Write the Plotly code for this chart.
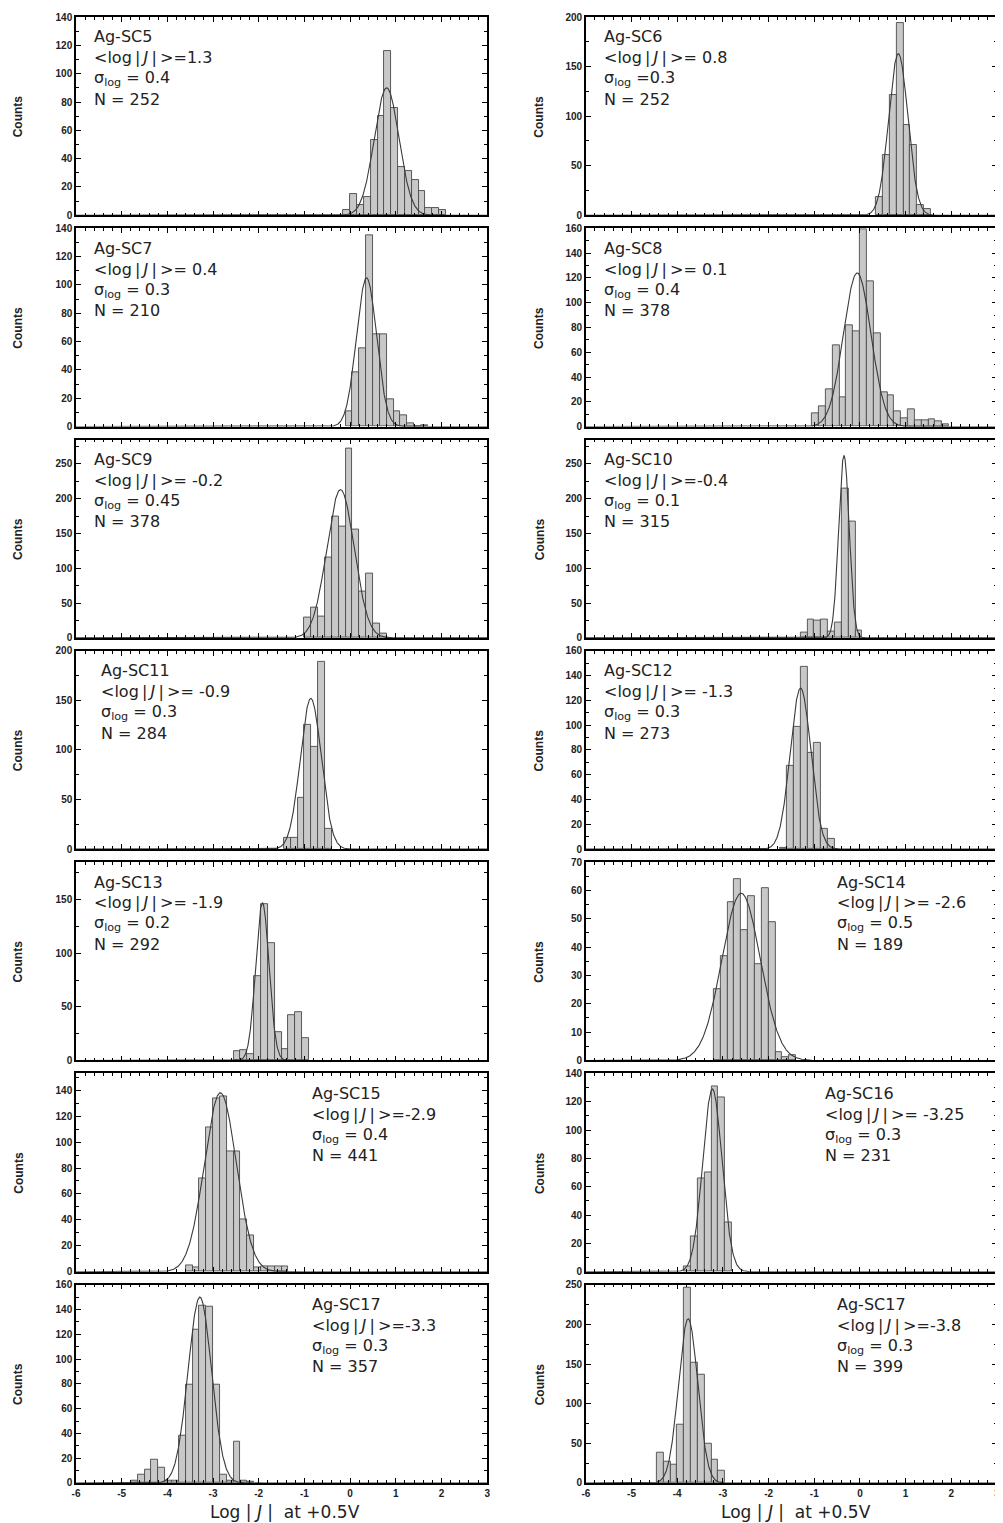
import numpy as np
import plotly.graph_objects as go
from plotly.subplots import make_subplots

# ---------------- data ----------------
BIN_WIDTH = 0.15

panel_names = ["Ag-SC5", "Ag-SC6", "Ag-SC7", "Ag-SC8", "Ag-SC9", "Ag-SC10", "Ag-SC11",
               "Ag-SC12", "Ag-SC13", "Ag-SC14", "Ag-SC15", "Ag-SC16", "Ag-SC17", "Ag-SC17"]
mean_labels = ["=1.3", "= 0.8", "= 0.4", "= 0.1", "= -0.2", "=-0.4", "= -0.9",
               "= -1.3", "= -1.9", "= -2.6", "=-2.9", "= -3.25", "=-3.3", "=-3.8"]
sigma_labels = [" = 0.4", " =0.3", " = 0.3", " = 0.4", " = 0.45", " = 0.1", " = 0.3",
                " = 0.3", " = 0.2", " = 0.5", " = 0.4", " = 0.3", " = 0.3", " = 0.3"]
n_labels = ["252", "252", "210", "378", "378", "315", "284",
            "273", "292", "189", "441", "231", "357", "399"]

bin_starts = [-0.15, 0.35, -0.10, -1.05, -1.00, -1.30, -1.45,
              -1.75, -2.55, -3.20, -3.60, -3.85, -4.80, -4.45]

counts_sc5 = [4, 15, 7, 13, 53, 70, 116, 76, 34, 31, 25, 17, 5, 5, 4]
counts_sc6 = [18, 61, 121, 194, 91, 71, 10, 6]
counts_sc7 = [11, 38, 55, 135, 65, 65, 19, 11, 8, 2, 0, 1]
counts_sc8 = [11, 16, 30, 66, 24, 82, 77, 159, 117, 75, 28, 25, 12, 7, 14, 5, 5, 6, 4, 2]
counts_sc9 = [29, 44, 31, 115, 174, 160, 272, 156, 66, 93, 21, 6]
counts_sc10 = [8, 26, 25, 27, 9, 22, 215, 167, 11]
counts_sc11 = [11, 11, 52, 125, 103, 189, 20]
counts_sc12 = [1, 67, 99, 147, 78, 86, 16, 8]
counts_sc13 = [9, 10, 6, 79, 146, 109, 26, 11, 42, 45, 21]
counts_sc14 = [25, 37, 56, 64, 46, 58, 34, 61, 49, 3, 1, 2]
counts_sc15 = [5, 3, 72, 111, 134, 135, 93, 93, 40, 28, 3, 4, 4, 4, 4]
counts_sc16 = [4, 25, 66, 70, 131, 123, 35]
counts_sc17 = [2, 7, 11, 19, 12, 2, 2, 38, 79, 124, 143, 142, 79, 7, 2, 33, 2, 1]
counts_sc17b = [38, 27, 23, 73, 246, 152, 137, 49, 29, 16]

all_counts = [counts_sc5, counts_sc6, counts_sc7, counts_sc8, counts_sc9, counts_sc10,
              counts_sc11, counts_sc12, counts_sc13, counts_sc14, counts_sc15,
              counts_sc16, counts_sc17, counts_sc17b]

# Gaussian fit parameters (amplitude, centre, width)
fit_amp = [90, 163, 105, 124, 213, 262, 152, 130, 147, 59, 138, 129, 150, 207]
fit_mu = [0.80, 0.84, 0.36, -0.06, -0.21, -0.35, -0.86, -1.30, -1.92, -2.60, -2.84, -3.23, -3.29, -3.76]
fit_sigma = [0.27, 0.21, 0.22, 0.30, 0.30, 0.115, 0.23, 0.225, 0.146, 0.42, 0.35, 0.21, 0.256, 0.21]

y_max = [140, 200, 140, 160, 285, 285, 200, 160, 185, 70, 153, 140, 160, 250]
y_dtick = [20, 50, 20, 20, 50, 50, 50, 20, 50, 10, 20, 20, 20, 50]

x_tick_vals = [-6, -5, -4, -3, -2, -1, 0, 1, 2, 3]
x_tick_text = ["-6", "-5", "-4", "-3", "-2", "-1", "0", "1", "2", "3"]

# ---------------- layout (style only) ----------------
label_xpos = [0.04, 0.04, 0.04, 0.04, 0.04, 0.04, 0.055,
              0.04, 0.04, 0.607, 0.57, 0.578, 0.57, 0.607]
line_offsets_px = [20, 41, 62, 82.5]   # text line centres below plot top

PAGE_OFF = 8                      # browser body margin
W, H = 1003 - PAGE_OFF, 1523 - PAGE_OFF
ML, MR, MT, MB = 76 - PAGE_OFF, 3, 12 - PAGE_OFF, 40
plot_w = W - ML - MR
plot_h = H - MT - MB
SUB_H = 199
GAP_V = 13

fig = make_subplots(rows=7, cols=2,
                    horizontal_spacing=99 / plot_w,
                    vertical_spacing=GAP_V / plot_h)

TEXT_FONT = "DejaVu Sans"
AX_FONT = "Liberation Sans"

xs = np.linspace(-6, 3, 1801)
annotations = []
for i in range(14):
    r, c = i // 2 + 1, i % 2 + 1
    cnt = all_counts[i]
    centers = [bin_starts[i] + BIN_WIDTH * (k + 0.5) for k in range(len(cnt))]
    fig.add_trace(go.Bar(x=centers, y=cnt, width=BIN_WIDTH,
                         marker=dict(color="#c8c8c8", line=dict(color="#4a4a4a", width=0.9)),
                         showlegend=False, hoverinfo="skip"), row=r, col=c)
    ys = fit_amp[i] * np.exp(-0.5 * ((xs - fit_mu[i]) / fit_sigma[i]) ** 2)
    fig.add_trace(go.Scatter(x=xs, y=ys, mode="lines",
                             line=dict(color="#3a3a3a", width=1.1),
                             showlegend=False, hoverinfo="skip"), row=r, col=c)

    last_row = (r == 7)
    fig.update_xaxes(range=[-6, 3], showline=True, mirror="ticks", linecolor="black",
                     linewidth=1.5, ticks="inside", ticklen=5, tickcolor="black",
                     tickvals=x_tick_vals, ticktext=x_tick_text,
                     minor=dict(ticks="inside", dtick=0.2, ticklen=3, tickcolor="black"),
                     showgrid=False, zeroline=False, showticklabels=last_row,
                     tickfont=dict(family=AX_FONT, size=10, color="#222", weight="bold"),
                     row=r, col=c)
    dt = y_dtick[i]
    fig.update_yaxes(range=[0, y_max[i]], showline=True, mirror="ticks", linecolor="black",
                     linewidth=1.5, ticks="inside", ticklen=5, tickcolor="black",
                     dtick=dt, tick0=0,
                     minor=dict(ticks="inside", dtick=dt / 2, ticklen=3, tickcolor="black"),
                     showgrid=False, zeroline=False,
                     tickfont=dict(family=AX_FONT, size=10, color="#222", weight="bold"),
                     row=r, col=c)

    k = i + 1
    xr = "x domain" if k == 1 else f"x{k} domain"
    yr = "y domain" if k == 1 else f"y{k} domain"
    lines = [panel_names[i],
             "&lt;log\u2009|\u2009<i>J</i>\u2009|\u2009&gt;" + mean_labels[i],
             "σ<sub>log</sub>" + sigma_labels[i],
             "N = " + n_labels[i]]
    for txt, off in zip(lines, line_offsets_px):
        annotations.append(dict(text=txt, xref=xr, yref=yr, x=label_xpos[i],
                                y=1 - off / SUB_H,
                                xanchor="left", yanchor="middle", align="left",
                                showarrow=False,
                                font=dict(family=TEXT_FONT, size=16, color="#222")))

    # "Counts" axis label
    row_center_px = MT + (r - 1) * (SUB_H + GAP_V) + SUB_H / 2
    py = (H - MB - row_center_px) / plot_h
    px_page = 18 if c == 1 else 541
    px = (px_page - PAGE_OFF - ML) / plot_w
    annotations.append(dict(text="<b>Counts</b>", xref="paper", yref="paper", x=px, y=py,
                            xanchor="center", yanchor="middle", textangle=-90,
                            showarrow=False,
                            font=dict(family=AX_FONT, size=12, color="#222")))

for cx in (286, 798):
    annotations.append(dict(text="Log | <i>J</i> |  at +0.5V", xref="paper", yref="paper",
                            x=(cx - PAGE_OFF - ML) / plot_w,
                            y=(H - MB - (1512 - PAGE_OFF)) / plot_h,
                            xanchor="center", yanchor="middle", showarrow=False,
                            font=dict(family=TEXT_FONT, size=17, color="#222")))

fig.update_layout(width=W, height=H, margin=dict(l=ML, r=MR, t=MT, b=MB),
                  paper_bgcolor="white", plot_bgcolor="white",
                  barmode="overlay", bargap=0, annotations=annotations,
                  showlegend=False)

fig.write_html("out.html")
